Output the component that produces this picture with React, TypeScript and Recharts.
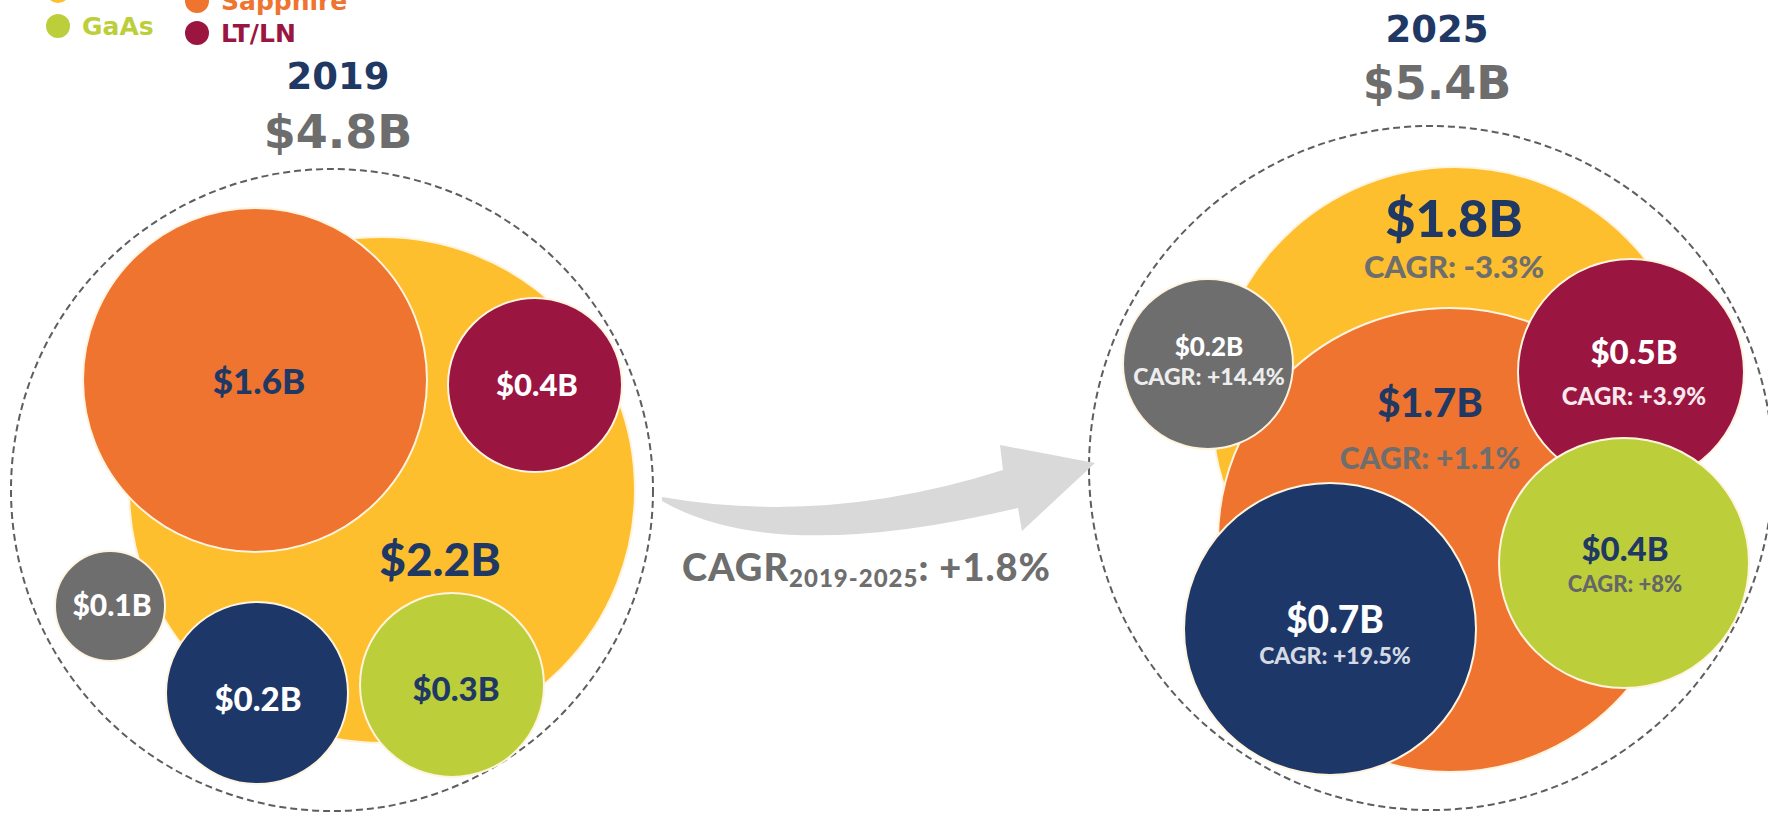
import React from "react";
import { ScatterChart, Scatter, XAxis, YAxis, ZAxis, Legend } from "recharts";

const W = 1768;
const H = 821;

// segment order is also the paint order inside each group
const categories = ["Si", "Sapphire", "LT/LN", "GaAs", "SOI", "Other"];
const years = ["2019", "2025"];
const totals = [4.8, 5.4];
const values2019 = [2.2, 1.6, 0.4, 0.3, 0.2, 0.1];
const values2025 = [1.8, 1.7, 0.5, 0.4, 0.7, 0.2];
const cagr2025 = [-3.3, 1.1, 3.9, 8, 19.5, 14.4];
const totalCagr = 1.8;
const cagrPeriod = "2019-2025";
const legendItems = ["Si", "Sapphire", "GaAs", "LT/LN"];

const FILLS = ["#FDBF2D", "#EE7430", "#9B1541", "#BCCF3A", "#1D3769", "#6E6E6E"];
const VALUE_COLORS = ["#1F3864", "#1F3864", "#FFFFFF", "#1F3864", "#FFFFFF", "#FFFFFF"];
const CAGR_COLORS = ["#6E6E6E", "#6E6E6E", "#F6E9EE", "#666666", "#D5D9E3", "#EDEDED"];
const NAVY = "#1F3864";
const GREY = "#6D6D6D";

// bubble layout in axis units (x, y = centre, r = radius, lx/ly = label anchor)
const layout2019 = [
  { x: 382, y: 490, r: 253, lx: 440, ly: 558, fs: 46 },
  { x: 255, y: 380, r: 172, lx: 259, ly: 380, fs: 35 },
  { x: 535, y: 385, r: 87, lx: 537, ly: 384, fs: 31 },
  { x: 452, y: 685, r: 92, lx: 456, ly: 688, fs: 33 },
  { x: 257, y: 693, r: 91, lx: 258, ly: 698, fs: 33 },
  { x: 110, y: 606, r: 55, lx: 112, ly: 604, fs: 30 },
];
const layout2025 = [
  { x: 1455, y: 410, r: 243, lx: 1454, ly: 217, cy: 266, fs: 52, cfs: 31 },
  { x: 1450, y: 540, r: 232, lx: 1430, ly: 402, cy: 457, fs: 40, cfs: 30 },
  { x: 1631, y: 372, r: 113, lx: 1634, ly: 351, cy: 395, fs: 33, cfs: 24 },
  { x: 1624, y: 563, r: 125, lx: 1625, ly: 548, cy: 583, fs: 33, cfs: 22 },
  { x: 1330, y: 629, r: 146, lx: 1335, ly: 618, cy: 655, fs: 37, cfs: 23 },
  { x: 1208, y: 364, r: 85, lx: 1209, ly: 346, cy: 376, fs: 26, cfs: 23 },
];
const order2019 = [0, 1, 2, 5, 4, 3];
const order2025 = [0, 1, 5, 2, 3, 4];
const outerLayout = [
  { x: 332, y: 490, r: 321 },
  { x: 1431, y: 468, r: 342 },
];
const titleLayout = [
  { x: 338, y: 76, ty: 132 },
  { x: 1437, y: 29, ty: 83 },
];
const arrowLayout = { x: 662, y: 497, tx: 682, ty: 581 };
const legendLayout = [
  { x: 58, y: -9 },
  { x: 197, y: 1 },
  { x: 58, y: 26 },
  { x: 197, y: 33 },
];

const fmtValue = (v: number) => `$${v.toFixed(1)}B`;
const fmtCagr = (v: number) => `CAGR: ${v > 0 ? "+" : ""}${v}%`;
const area = (r: number) => Math.PI * r * r;

const bubbles2019 = order2019.map((i) => ({
  ...layout2019[i],
  z: area(layout2019[i].r),
  name: categories[i],
  fill: FILLS[i],
  label: fmtValue(values2019[i]),
  labelColor: VALUE_COLORS[i],
}));
const bubbles2025 = order2025.map((i) => ({
  ...layout2025[i],
  z: area(layout2025[i].r),
  name: categories[i],
  fill: FILLS[i],
  label: fmtValue(values2025[i]),
  labelColor: VALUE_COLORS[i],
  cagr: fmtCagr(cagr2025[i]),
  cagrColor: CAGR_COLORS[i],
}));
const outerData = outerLayout.map((o) => ({ ...o, z: area(o.r) }));
const titleData = titleLayout.map((t, i) => ({
  x: t.x,
  y: t.y,
  z: 1,
  year: years[i],
  total: fmtValue(totals[i]),
  dy: t.ty - t.y,
}));
const arrowData = [{ x: arrowLayout.x, y: arrowLayout.y, z: 1 }];

const LABEL_FONT = "Lato, 'Open Sans', sans-serif";
const TITLE_FONT = "'DejaVu Sans', Verdana, sans-serif";

const Bubble = (props: any) => {
  const { cx, cy, width, payload } = props;
  const r = width / 2;
  const k = r / payload.r;
  const tx = cx + (payload.lx - payload.x) * k;
  const ty = cy + (payload.ly - payload.y) * k;
  return (
    <g>
      <circle cx={cx} cy={cy} r={r} fill={payload.fill} stroke="#FFF4DF" strokeWidth={2} />
      <text
        x={tx}
        y={ty}
        textAnchor="middle"
        dominantBaseline="central"
        fontFamily={LABEL_FONT}
        fontWeight={900}
        fontSize={payload.fs}
        fill={payload.labelColor}
      >
        {payload.label}
      </text>
      {payload.cagr && (
        <text
          x={tx}
          y={cy + (payload.cy - payload.y) * k}
          textAnchor="middle"
          dominantBaseline="central"
          fontFamily={LABEL_FONT}
          fontWeight={900}
          fontSize={payload.cfs}
          fill={payload.cagrColor}
        >
          {payload.cagr}
        </text>
      )}
    </g>
  );
};

const Outer = (props: any) => {
  const { cx, cy, width } = props;
  return (
    <circle cx={cx} cy={cy} r={width / 2} fill="none" stroke="#5E5E5E" strokeWidth={2} strokeDasharray="7 4" />
  );
};

const Title = (props: any) => {
  const { cx, cy, payload } = props;
  return (
    <g fontFamily={TITLE_FONT} fontWeight={700} textAnchor="middle">
      <text x={cx} y={cy} dominantBaseline="central" fontSize={37} fill={NAVY}>
        {payload.year}
      </text>
      <text x={cx} y={cy + payload.dy} dominantBaseline="central" fontSize={46} fill={GREY}>
        {payload.total}
      </text>
    </g>
  );
};

const Arrow = (props: any) => {
  const { cx, cy } = props;
  return (
    <g>
      <path
        transform={`translate(${cx},${cy})`}
        d="M 0 0 Q 165 29 341 -27 L 338 -52 L 433 -34 L 360 34 L 356 11 Q 112 69 0 4 Z"
        fill="#D9D9D9"
      />
      <text
        x={cx + arrowLayout.tx - arrowLayout.x}
        y={cy + arrowLayout.ty - arrowLayout.y}
        fontFamily={LABEL_FONT}
        fontWeight={900}
        fontSize={38}
        letterSpacing={1}
        fill="#6E6E6E"
      >
        CAGR
        <tspan fontSize={24} dy={6}>
          {cagrPeriod}
        </tspan>
        <tspan dy={-6}>{`: +${totalCagr}%`}</tspan>
      </text>
    </g>
  );
};

const renderLegend = () => (
  <div style={{ position: "relative", width: 400, height: 60 }}>
    {legendItems.map((name, i) => {
      const idx = categories.indexOf(name);
      const pos = legendLayout[i];
      return (
        <div
          key={name}
          style={{
            position: "absolute",
            left: pos.x - 12,
            top: pos.y - 15,
            height: 30,
            display: "flex",
            alignItems: "center",
            whiteSpace: "nowrap",
          }}
        >
          <span
            style={{ width: 24, height: 24, borderRadius: 12, background: FILLS[idx], display: "inline-block" }}
          />
          <span
            style={{
              marginLeft: 12,
              fontFamily: TITLE_FONT,
              fontWeight: 700,
              fontSize: 25,
              color: FILLS[idx],
            }}
          >
            {name}
          </span>
        </div>
      );
    })}
  </div>
);

export default function App() {
  return (
    <div style={{ position: "absolute", left: 0, top: 0, width: W, height: H, background: "#fff" }}>
      <ScatterChart width={W} height={H} margin={{ top: 0, right: 0, bottom: 0, left: 0 }}>
        <XAxis type="number" dataKey="x" domain={[0, W]} hide allowDataOverflow />
        <YAxis type="number" dataKey="y" domain={[0, H]} hide reversed allowDataOverflow />
        <ZAxis type="number" dataKey="z" domain={[0, 400000]} range={[0, 400000]} />
        <Legend
          content={renderLegend}
          layout="horizontal"
          verticalAlign="middle"
          align="center"
          wrapperStyle={{ top: 0, left: 0, width: 400, height: 60 }}
        />
        <Scatter name="outline" data={outerData} shape={<Outer />} isAnimationActive={false} />
        <Scatter name="transition" data={arrowData} shape={<Arrow />} isAnimationActive={false} />
        <Scatter name="2019" data={bubbles2019} shape={<Bubble />} isAnimationActive={false} />
        <Scatter name="2025" data={bubbles2025} shape={<Bubble />} isAnimationActive={false} />
        <Scatter name="titles" data={titleData} shape={<Title />} isAnimationActive={false} />
      </ScatterChart>
    </div>
  );
}
